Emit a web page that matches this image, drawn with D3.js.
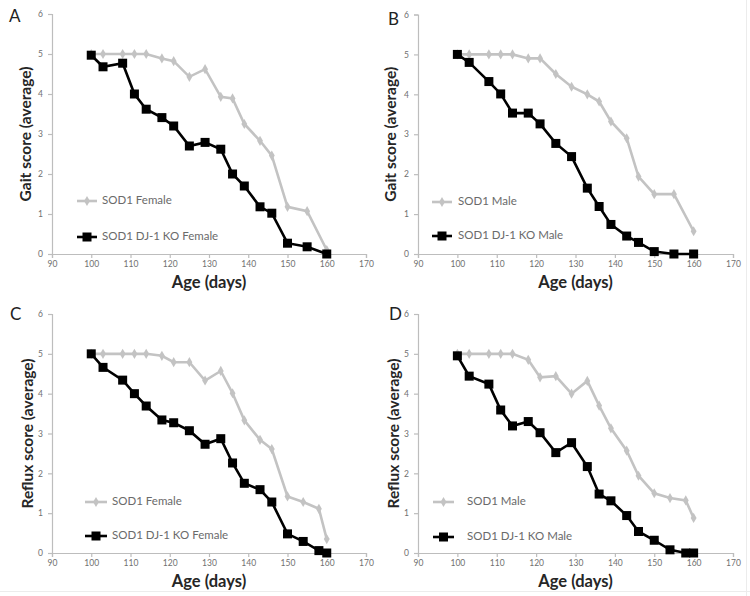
<!DOCTYPE html>
<html><head><meta charset="utf-8">
<script src="https://cdn.jsdelivr.net/npm/d3@7"></script>
<style>body{margin:0;background:#fff}svg{display:block}</style>
</head><body>
<svg id="c" width="750" height="596"></svg>
<script>
// Days (x values)
const daysAB = [100,103,108,111,114,118,121,125,129,133,136,139,143,146,150,155,160];
const daysCD = [100,103,108,111,114,118,121,125,129,133,136,139,143,146,150,154,158,160];
// Panel A: Gait score, females
const gaitSOD1Female = [5,5,5,5,5,4.89,4.82,4.43,4.62,3.93,3.89,3.25,2.83,2.46,1.18,1.07,0.1];
const gaitKOFemale   = [4.97,4.68,4.77,4.0,3.62,3.41,3.2,2.7,2.79,2.62,2.0,1.7,1.18,1.02,0.27,0.18,0];
// Panel B: Gait score, males
const gaitSOD1Male = [5,5,5,5,5,4.9,4.9,4.51,4.19,4.0,3.82,3.32,2.9,1.94,1.5,1.5,0.57];
const gaitKOMale   = [5,4.8,4.32,4.01,3.53,3.53,3.26,2.77,2.44,1.65,1.19,0.74,0.45,0.29,0.06,0,0];
// Panel C: Reflux score, females
const refluxSOD1Female = [5,5,5,5,5,4.95,4.79,4.79,4.33,4.57,4.01,3.33,2.84,2.61,1.42,1.28,1.11,0.35];
const refluxKOFemale   = [5,4.66,4.34,4.0,3.69,3.34,3.27,3.07,2.73,2.87,2.26,1.75,1.59,1.28,0.48,0.29,0.06,0];
// Panel D: Reflux score, males
const refluxSOD1Male = [5,5,5,5,5,4.85,4.41,4.44,4.0,4.32,3.7,3.13,2.57,1.94,1.5,1.38,1.32,0.88];
const refluxKOMale   = [4.95,4.44,4.24,3.59,3.19,3.3,3.02,2.52,2.77,2.17,1.48,1.31,0.94,0.54,0.32,0.08,0,0];

const xTicks = [90,100,110,120,130,140,150,160,170];
const yTicks = [0,1,2,3,4,5,6];

const panels = [
  {letter:"A", ylabel:"Gait score (average)", days:daysAB, wt:gaitSOD1Female, ko:gaitKOFemale,
   wtName:"SOD1 Female", koName:"SOD1 DJ-1 KO Female",
   x0:52, x1:366, y0:254, y1:14, lx:[9,22], ytx:27, leg:{x:77,w:20,y1:201,y2:237,tx:102}},
  {letter:"B", ylabel:"Gait score (average)", days:daysAB, wt:gaitSOD1Male, ko:gaitKOMale,
   wtName:"SOD1 Male", koName:"SOD1 DJ-1 KO Male",
   x0:418, x1:733, y0:254, y1:14.5, lx:[388,25], ytx:392, leg:{x:432,w:20,y1:202,y2:236,tx:458}},
  {letter:"C", ylabel:"Reflux score (average)", days:daysCD, wt:refluxSOD1Female, ko:refluxKOFemale,
   wtName:"SOD1 Female", koName:"SOD1 DJ-1 KO Female",
   x0:52, x1:366, y0:553, y1:314, lx:[10,320], ytx:29, leg:{x:85,w:22,y1:502,y2:536,tx:112}},
  {letter:"D", ylabel:"Reflux score (average)", days:daysCD, wt:refluxSOD1Male, ko:refluxKOMale,
   wtName:"SOD1 Male", koName:"SOD1 DJ-1 KO Male",
   x0:418, x1:733, y0:553, y1:314, lx:[389,320], ytx:395, leg:{x:433,w:21,y1:502,y2:537,tx:467}}
];

const svg = d3.select("#c");
const FONT = "Lato, 'Open Sans', sans-serif";
const GRAY = "#c3c3c3";

// faint frame lines
svg.append("line").attr("x1",746.5).attr("x2",746.5).attr("y1",0).attr("y2",596).attr("stroke","#ececec");
svg.append("line").attr("x1",0).attr("x2",750).attr("y1",591.5).attr("y2",591.5).attr("stroke","#ececec");

const diamond = d3.symbol().type(d3.symbolDiamond).size(30);

panels.forEach(p => {
  const g = svg.append("g");
  const x = d3.scaleLinear().domain([90,170]).range([p.x0,p.x1]);
  const y = d3.scaleLinear().domain([0,6]).range([p.y0,p.y1]);

  const xa = g.append("g").attr("transform",`translate(0,${p.y0})`)
    .call(d3.axisBottom(x).tickValues(xTicks).tickSize(4).tickPadding(3).tickFormat(d3.format("d")));
  const ya = g.append("g").attr("transform",`translate(${p.x0},0)`)
    .call(d3.axisLeft(y).tickValues(yTicks).tickSize(4).tickPadding(5).tickFormat(d3.format("d")));
  [xa,ya].forEach(a => {
    a.select(".domain").attr("stroke","#bdbdbd").attr("stroke-width",1.2);
    a.selectAll(".tick line").attr("stroke","#bdbdbd").attr("stroke-width",1.2);
    a.selectAll(".tick text").attr("fill","#707070").attr("font-size",8.5).attr("font-family",FONT);
  });

  // panel letter
  g.append("text").attr("x",p.lx[0]).attr("y",p.lx[1]).text(p.letter)
    .attr("font-family",FONT).attr("font-size",17).attr("fill","#222");
  // y title
  g.append("text").attr("transform",`translate(${p.ytx},${(p.y0+p.y1)/2}) rotate(-90)`)
    .attr("text-anchor","middle").attr("dominant-baseline","middle")
    .attr("font-family",FONT).attr("font-size",15.5).attr("font-weight","bold").attr("fill","#262626")
    .text(p.ylabel);
  // x title
  g.append("text").attr("x",(p.x0+p.x1)/2).attr("y",p.y0+34).attr("text-anchor","middle")
    .attr("font-family",FONT).attr("font-size",16.5).attr("font-weight","bold").attr("fill","#262626")
    .text("Age (days)");

  const line = d3.line().x(d=>x(d[0])).y(d=>y(d[1]));
  const wt = p.days.map((d,i)=>[d,p.wt[i]]);
  const ko = p.days.map((d,i)=>[d,p.ko[i]]);

  g.append("path").datum(wt).attr("d",line).attr("fill","none").attr("stroke",GRAY).attr("stroke-width",2.6);
  g.selectAll(".wt").data(wt).enter().append("path").attr("class","wt")
    .attr("d",diamond).attr("transform",d=>`translate(${x(d[0])},${y(d[1])})`).attr("fill",GRAY);

  g.append("path").datum(ko).attr("d",line).attr("fill","none").attr("stroke","#000").attr("stroke-width",2.6);
  g.selectAll(".ko").data(ko).enter().append("rect").attr("class","ko")
    .attr("x",d=>x(d[0])-4.5).attr("y",d=>y(d[1])-4.5).attr("width",9).attr("height",9).attr("fill","#000");

  // legend
  const L = p.leg;
  g.append("line").attr("x1",L.x).attr("x2",L.x+L.w).attr("y1",L.y1).attr("y2",L.y1).attr("stroke",GRAY).attr("stroke-width",2.6);
  g.append("path").attr("d",diamond).attr("transform",`translate(${L.x+L.w/2},${L.y1})`).attr("fill",GRAY);
  g.append("text").attr("x",L.tx).attr("y",L.y1).attr("dominant-baseline","middle")
    .attr("font-family",FONT).attr("font-size",11.5).attr("fill","#6a6a6a").text(p.wtName);
  g.append("line").attr("x1",L.x).attr("x2",L.x+L.w).attr("y1",L.y2).attr("y2",L.y2).attr("stroke","#000").attr("stroke-width",2.6);
  g.append("rect").attr("x",L.x+L.w/2-4.5).attr("y",L.y2-4.5).attr("width",9).attr("height",9).attr("fill","#000");
  g.append("text").attr("x",L.tx).attr("y",L.y2).attr("dominant-baseline","middle")
    .attr("font-family",FONT).attr("font-size",11.5).attr("fill","#6a6a6a").text(p.koName);
});
</script>
</body></html>
